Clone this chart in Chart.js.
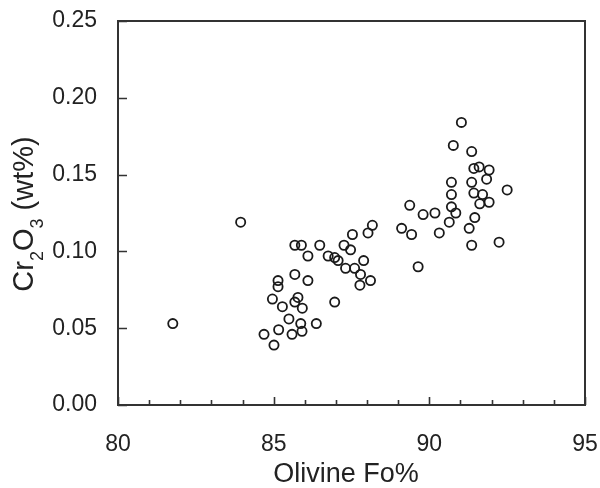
<!DOCTYPE html>
<html>
<head>
<meta charset="utf-8">
<script src="https://cdn.jsdelivr.net/npm/chart.js@4.4.0/dist/chart.umd.min.js"></script>
<style>
  html, body { margin: 0; padding: 0; background: #fff; }
</style>
</head>
<body>
<canvas id="chart" width="600" height="488"></canvas>
<script>
// Olivine Fo% vs Cr2O3 (wt%)
const foValues = [
    91.03, 90.77, 91.36, 91.60, 91.43, 91.92, 91.84, 91.36, 90.71, 92.50,
    90.71, 91.43, 91.71, 91.92, 89.37, 90.71, 91.62, 90.85, 90.18, 89.80,
    90.64, 91.46, 91.28, 89.11, 89.43, 90.32, 91.36, 92.24, 89.64, 83.94,
    88.17, 88.03, 87.53, 85.68, 85.89, 86.48, 87.26, 87.47, 86.10, 86.75,
    86.96, 87.07, 87.89, 87.31, 87.60, 87.79, 85.68, 88.11, 86.10, 85.14,
    87.77, 85.14, 84.96, 85.78, 85.68, 86.96, 85.28, 85.92, 85.49, 85.87,
    86.37, 81.76, 85.16, 85.91, 85.59, 84.69, 85.01
]
const crValues = [
    0.184, 0.169, 0.165, 0.155, 0.154, 0.153, 0.147, 0.145, 0.145, 0.140,
    0.137, 0.138, 0.137, 0.132, 0.130, 0.129, 0.131, 0.125, 0.125, 0.124,
    0.119, 0.122, 0.115, 0.115, 0.111, 0.112, 0.104, 0.106, 0.090, 0.119,
    0.117, 0.112, 0.111, 0.104, 0.104, 0.104, 0.104, 0.101, 0.097, 0.097,
    0.096, 0.094, 0.094, 0.089, 0.089, 0.085, 0.085, 0.081, 0.081, 0.081,
    0.078, 0.077, 0.069, 0.070, 0.067, 0.067, 0.064, 0.063, 0.056, 0.053,
    0.053, 0.053, 0.049, 0.048, 0.046, 0.046, 0.039
]
const xTicks = [80, 85, 90, 95]
const yTicks = [0, 0.05, 0.10, 0.15, 0.20, 0.25]
const xMinorStep = 1
const xTitulo = 'Olivine Fo%'

const textColor = '#222'
const lineColor = '#333'
const fuente = '"Liberation Sans", Arial, sans-serif'

const puntos = foValues.map((fo, i) => ({ x: fo, y: crValues[i] }))

// frame, inner ticks and both axis titles
const marcoPlugin = {
    id: 'marco',
    afterDraw(chart) {
        const { ctx, chartArea, scales } = chart
        const sx = scales.x
        const sy = scales.y
        ctx.save()
        ctx.strokeStyle = lineColor
        ctx.lineWidth = 1.6
        ctx.beginPath()
        for (let v = xTicks[0]; v <= xTicks[xTicks.length - 1]; v += xMinorStep) {
            const px = Math.round(sx.getPixelForValue(v)) + 0.5
            const len = xTicks.includes(v) ? 8 : 5
            ctx.moveTo(px, chartArea.bottom)
            ctx.lineTo(px, chartArea.bottom - len)
        }
        yTicks.forEach(v => {
            const py = Math.round(sy.getPixelForValue(v)) + 0.5
            ctx.moveTo(chartArea.left, py)
            ctx.lineTo(chartArea.left + 9, py)
        })
        ctx.stroke()

        ctx.lineWidth = 2
        ctx.strokeRect(chartArea.left, chartArea.top, chartArea.right - chartArea.left, chartArea.bottom - chartArea.top)

        // x title
        ctx.fillStyle = textColor
        ctx.font = '27px ' + fuente
        ctx.textAlign = 'center'
        ctx.textBaseline = 'alphabetic'
        ctx.fillText(xTitulo, 346, 482)

        // y title with subscripts
        const mainFont = '29px ' + fuente
        const subFont = '18px ' + fuente
        const partes = [['Cr', false], ['2', true], ['O', false], ['3', true], [' (wt%)', false]]
        let total = 0
        partes.forEach(p => {
            ctx.font = p[1] ? subFont : mainFont
            total += ctx.measureText(p[0]).width
        })
        ctx.translate(33, 214)
        ctx.rotate(-Math.PI / 2)
        ctx.textAlign = 'left'
        let pos = -total / 2
        partes.forEach(p => {
            ctx.font = p[1] ? subFont : mainFont
            ctx.fillText(p[0], pos, p[1] ? 10 : 0)
            pos += ctx.measureText(p[0]).width
        })
        ctx.restore()
    }
}

new Chart(document.querySelector('#chart'), {
    type: 'scatter',
    data: {
        datasets: [{
            data: puntos,
            pointStyle: 'circle',
            pointRadius: 4.6,
            pointHoverRadius: 4.6,
            pointBorderWidth: 1.8,
            borderColor: '#1a1a1a',
            backgroundColor: 'rgba(0,0,0,0)'
        }]
    },
    options: {
        responsive: false,
        animation: false,
        layout: { padding: { left: 0, right: 15, top: 21, bottom: 0 } },
        plugins: {
            legend: { display: false },
            tooltip: { enabled: false }
        },
        scales: {
            x: {
                type: 'linear',
                min: 80,
                max: 95,
                afterBuildTicks: (scale) => { scale.ticks = xTicks.map(v => ({ value: v })) },
                afterFit: (scale) => {
                    scale.height = 83
                    scale.paddingLeft = 0
                    scale.paddingRight = 0
                },
                grid: { display: false, drawTicks: false },
                border: { display: false },
                ticks: {
                    padding: 26,
                    color: textColor,
                    font: { family: fuente, size: 23 }
                }
            },
            y: {
                type: 'linear',
                min: 0,
                max: 0.25,
                afterBuildTicks: (scale) => { scale.ticks = yTicks.map(v => ({ value: v })) },
                afterFit: (scale) => {
                    scale.width = 118
                    scale.paddingTop = 0
                    scale.paddingBottom = 0
                },
                grid: { display: false, drawTicks: false },
                border: { display: false },
                ticks: {
                    padding: 21,
                    color: textColor,
                    callback: (v) => v.toFixed(2),
                    font: { family: fuente, size: 23 }
                }
            }
        }
    },
    plugins: [marcoPlugin]
})
</script>
</body>
</html>
